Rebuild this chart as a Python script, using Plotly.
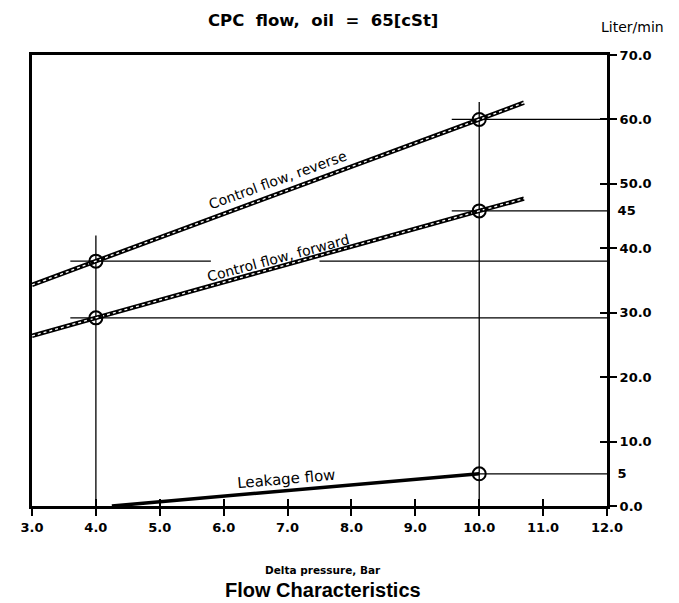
import plotly.graph_objects as go

# ---- data ----
x_ticks = [3.0, 4.0, 5.0, 6.0, 7.0, 8.0, 9.0, 10.0, 11.0, 12.0]
x_tick_text = ["3.0", "4.0", "5.0", "6.0", "7.0", "8.0", "9.0", "10.0", "11.0", "12.0"]
y_ticks = [0, 10, 20, 30, 40, 50, 60, 70]
y_tick_text = ["0.0", "10.0", "20.0", "30.0", "40.0", "50.0", "60.0", "70.0"]

reverse_pressure = [3.0, 4.0, 10.0, 10.7]
reverse_flow = [34.3, 38.0, 60.0, 62.6]
forward_pressure = [3.0, 4.0, 10.0, 10.7]
forward_flow = [26.4, 29.2, 45.8, 47.7]
leakage_pressure = [4.25, 10.0]
leakage_flow = [0.0, 5.0]

point_pressure = [4.0, 4.0, 10.0, 10.0, 10.0]
point_flow = [38.0, 29.2, 60.0, 45.8, 5.0]

extra_ticks = [5.0, 45.8]
extra_tick_text = ["5", "45"]

# guide lines (x pairs, y pairs)
guide_x = [[4.0, 4.0], [10.0, 10.0], [3.6, 5.8], [7.5, 12.0], [3.6, 12.0],
           [9.57, 12.0], [9.57, 12.0], [9.85, 12.0]]
guide_y = [[0.0, 42.0], [0.0, 62.7], [38.0, 38.0], [38.0, 38.0], [29.2, 29.2],
           [60.0, 60.0], [45.8, 45.8], [5.0, 5.0]]

labels = ["Control flow, reverse", "Control flow, forward", "Leakage flow"]
label_x = [6.84, 6.85, 6.98]
label_y = [50.6, 38.5, 4.2]
label_angle = [-20, -15, -5]
label_size = [14, 14, 15]

TICKFONT = dict(family="DejaVu Sans", size=13, color="black", weight="bold")

fig = go.Figure()

for xs, ys in zip(guide_x, guide_y):
    fig.add_trace(go.Scatter(x=xs, y=ys, mode="lines",
                             line=dict(color="black", width=1.3),
                             hoverinfo="skip", showlegend=False))

for px, py in [(reverse_pressure, reverse_flow), (forward_pressure, forward_flow)]:
    fig.add_trace(go.Scatter(x=px, y=py, mode="lines",
                             line=dict(color="black", width=4.5),
                             showlegend=False))
    fig.add_trace(go.Scatter(x=px, y=py, mode="lines",
                             line=dict(color="white", width=1.3, dash="dot"),
                             showlegend=False, hoverinfo="skip"))

fig.add_trace(go.Scatter(x=leakage_pressure, y=leakage_flow, mode="lines",
                         line=dict(color="black", width=3.5),
                         showlegend=False))

fig.add_trace(go.Scatter(x=point_pressure, y=point_flow, mode="markers",
                         marker=dict(symbol="circle-open", size=13,
                                     color="black", line=dict(width=2)),
                         showlegend=False))

# helper traces to activate the overlay axes
fig.add_trace(go.Scatter(x=[3, 12], y=[0, 70], xaxis="x2", yaxis="y2",
                         mode="markers", marker=dict(opacity=0),
                         hoverinfo="skip", showlegend=False))
fig.add_trace(go.Scatter(x=[3, 12], y=[0, 70], xaxis="x", yaxis="y3",
                         mode="markers", marker=dict(opacity=0),
                         hoverinfo="skip", showlegend=False))

annotations = []
for t, lx, ly, ang, sz in zip(labels, label_x, label_y, label_angle, label_size):
    annotations.append(dict(x=lx, y=ly, xref="x", yref="y", text=t,
                            showarrow=False, textangle=ang,
                            font=dict(family="DejaVu Sans", size=sz, color="black")))

annotations += [
    dict(x=0.5, y=1, xref="paper", yref="paper", yanchor="middle", yshift=35, xshift=3,
         text="CPC  flow,  oil  =  65[cSt]", showarrow=False,
         font=dict(family="DejaVu Sans", size=16.5, weight="bold")),
    dict(x=1, y=1, xref="paper", yref="paper", xanchor="center", yanchor="middle",
         xshift=25, yshift=28, text="Liter/min", showarrow=False,
         font=dict(family="DejaVu Sans", size=14)),
    dict(x=0.5, y=0, xref="paper", yref="paper", yanchor="middle", yshift=-64, xshift=3,
         text="Delta pressure, Bar", showarrow=False,
         font=dict(family="DejaVu Sans", size=10.5, weight="bold")),
    dict(x=0.5, y=0, xref="paper", yref="paper", yanchor="middle", yshift=-84, xshift=3,
         text="Flow Characteristics", showarrow=False,
         font=dict(family="Liberation Sans", size=20, weight="bold")),
]

fig.update_layout(
    width=679, height=603,
    margin=dict(l=19, r=80, t=47, b=105),
    paper_bgcolor="white", plot_bgcolor="white",
    font=dict(family="DejaVu Sans", color="black"),
    xaxis=dict(range=[3, 12], tickvals=x_ticks, ticktext=x_tick_text,
               ticks="outside", ticklen=7, tickwidth=2, tickcolor="black",
               showline=True, linewidth=3, linecolor="black", mirror=True,
               showgrid=False, zeroline=False, tickfont=TICKFONT,
               fixedrange=True),
    xaxis2=dict(range=[3, 12], overlaying="x", anchor="y", side="bottom",
                tickvals=x_ticks, ticks="inside", ticklen=7, tickwidth=2,
                tickcolor="black", showticklabels=False, showline=False,
                showgrid=False, zeroline=False),
    yaxis=dict(range=[0, 70], side="right", tickvals=y_ticks, ticktext=y_tick_text,
               ticks="outside", ticklen=7, tickwidth=2, tickcolor="black",
               showline=True, linewidth=3, linecolor="black", mirror=True,
               showgrid=False, zeroline=False, tickfont=TICKFONT),
    yaxis2=dict(range=[0, 70], overlaying="y", anchor="x2", side="right",
                tickvals=y_ticks, ticks="inside", ticklen=7, tickwidth=2,
                tickcolor="black", showticklabels=False, showline=False,
                showgrid=False, zeroline=False),
    yaxis3=dict(range=[0, 70], overlaying="y", anchor="x", side="right",
                tickvals=extra_ticks, ticktext=extra_tick_text,
                ticks="outside", ticklen=7, tickcolor="rgba(0,0,0,0)",
                showline=False, showgrid=False, zeroline=False, tickfont=TICKFONT),
    annotations=annotations,
)

fig.write_html("out.html")
